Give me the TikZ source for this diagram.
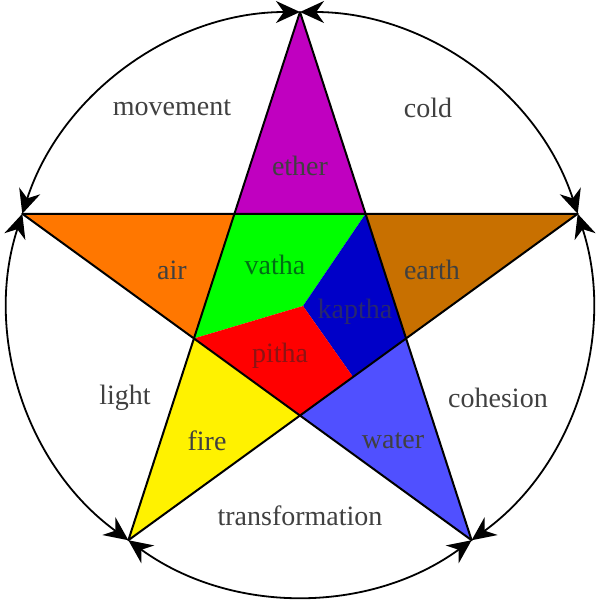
\documentclass[tikz,border=0pt]{standalone}
\usepackage{fontspec}
\setmainfont{Liberation Serif}
\usetikzlibrary{arrows.meta,calc}
\definecolor{txt}{HTML}{404040}
\tikzset{lbl/.style={font=\fontsize{28}{30}\selectfont,text=txt},
 edge/.style={draw=black,line width=2pt,line join=round},
 arcline/.style={line width=1.8pt,{Stealth[length=24pt,width=22pt]}-{Stealth[length=24pt,width=22pt]}}}
\begin{document}
\begin{tikzpicture}[x=1pt,y=1pt]
\useasboundingbox (-300,-310) rectangle (310,304);
\def\R{292}\def\r{111.5}
\foreach \n/\a in {T/90,L/162,BL/234,BR/306,Rt/18}{\coordinate (\n) at (\a:\R);}
\foreach \n/\a in {iTL/126,iTR/54,iR/-18,iB/270,iL/198}{\coordinate (\n) at (\a:\r);}
\coordinate (P) at (3,-2);
\coordinate (M) at ($(iR)!0.5!(iB)$);
% tips
\fill[fill={rgb,255:red,192;green,0;blue,192}] (T)--(iTR)--(iTL)--cycle;
\fill[fill={rgb,255:red,255;green,119;blue,0}] (L)--(iTL)--(iL)--cycle;
\fill[fill={rgb,255:red,200;green,112;blue,0}] (Rt)--(iR)--(iTR)--cycle;
\fill[fill=yellow] (BL)--(iL)--(iB)--cycle;
\fill[fill={rgb,255:red,80;green,80;blue,255}] (BR)--(iB)--(iR)--cycle;
% inner
\fill[fill={rgb,255:red,0;green,255;blue,0}] (iTL)--(iTR)--(P)--(iL)--cycle;
\fill[fill={rgb,255:red,0;green,0;blue,200}] (iTR)--(iR)--(M)--(P)--cycle;
\fill[fill=red] (iL)--(P)--(M)--(iB)--cycle;
% star
\draw[edge] (T)--(BL)--(Rt)--(L)--(BR)--cycle;
% arcs
\draw[arcline] (T) arc[start angle=90,end angle=162,radius=\R];
\draw[arcline] (L) arc[start angle=162,end angle=234,radius=\R];
\draw[arcline] (BL) arc[start angle=234,end angle=306,radius=\R];
\draw[arcline] (BR) arc[start angle=306,end angle=378,radius=\R];
\draw[arcline] (Rt) arc[start angle=18,end angle=90,radius=\R];
% labels
\node[lbl] (movement) at (-128,196) {movement};
\node[lbl] (cold) at (128,196) {cold};
\node[lbl] (ether) at (0,138) {ether};
\node[lbl] (air) at (-128,34) {air};
\node[lbl,text={rgb,255:red,0;green,110;blue,20}] (vatha) at (-25,39) {vatha};
\node[lbl] (earth) at (132,34) {earth};
\node[lbl,text={rgb,255:red,40;green,40;blue,110}] (kaptha) at (55,-8) {kaptha};
\node[lbl,text={rgb,255:red,140;green,20;blue,20}] (pitha) at (-20,-52) {pitha};
\node[lbl] (light) at (-175,-94) {light};
\node[lbl] (cohesion) at (198,-94) {cohesion};
\node[lbl] (fire) at (-93,-137) {fire};
\node[lbl] (water) at (93,-137) {water};
\node[lbl] (transformation) at (0,-212) {transformation};
\end{tikzpicture}
\end{document}
